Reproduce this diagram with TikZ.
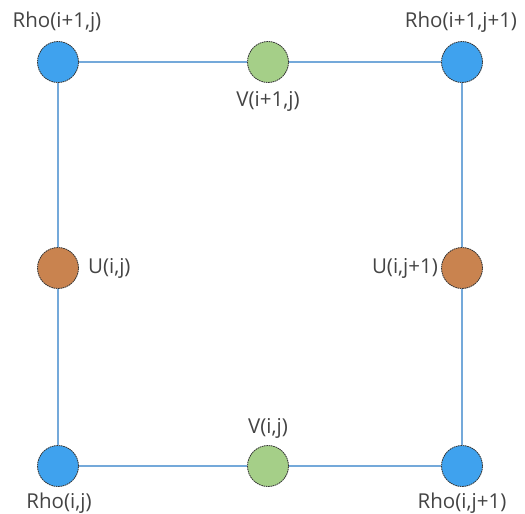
\documentclass[tikz,border=0pt]{standalone}
\usepackage{fontspec}
\setmainfont{Open Sans}
\usepackage{tikz}
\usetikzlibrary{positioning}

\definecolor{rhoblue}{HTML}{3FA2EE}
\definecolor{vgreen}{HTML}{A5CF88}
\definecolor{uorange}{HTML}{C9834F}
\definecolor{gridline}{HTML}{74A9DA}
\definecolor{labelgray}{HTML}{444444}

\begin{document}
\begin{tikzpicture}[
  x=1pt,y=-1pt,
  point/.style={circle,draw=black!80,line width=0.8pt,dash pattern=on 1.6pt off 0.7pt,minimum size=41pt,inner sep=0pt},
  rho/.style={point,fill=rhoblue},
  vel/.style={point,fill=vgreen},
  uvel/.style={point,fill=uorange},
  lbl/.style={text=labelgray,font=\fontsize{20.5}{24}\selectfont,inner sep=1pt},
  edge/.style={draw=gridline,line width=1.3pt}
]
  \useasboundingbox (0,0) rectangle (525,514);

  \node[rho] (rtl) at (58,62) {};
  \node[rho] (rtr) at (462,62) {};
  \node[rho] (rbl) at (58,466) {};
  \node[rho] (rbr) at (462,466) {};
  \node[vel] (vtop) at (268,62) {};
  \node[vel] (vbot) at (268,466) {};
  \node[uvel] (uleft) at (58,268) {};
  \node[uvel] (uright) at (462,268) {};

  \path[edge] (rtl) -- (vtop) -- (rtr);
  \path[edge] (rbl) -- (vbot) -- (rbr);
  \path[edge] (rtl) -- (uleft) -- (rbl);
  \path[edge] (rtr) -- (uright) -- (rbr);

  \node[lbl] (ltl) at (57,22) {Rho(i+1,j)};
  \node[lbl] (ltr) at (461,22) {Rho(i+1,j+1)};
  \node[lbl] (lbl1) at (59,503) {Rho(i,j)};
  \node[lbl] (lbr) at (462,503) {Rho(i,j+1)};
  \node[lbl] (lvtop) at (268,101) {V(i+1,j)};
  \node[lbl] (lvbot) at (268,428) {V(i,j)};
  \node[lbl,right=8pt of uleft] (lul) {U(i,j)};
  \node[lbl,left=2pt of uright] (lur) {U(i,j+1)};
\end{tikzpicture}
\end{document}
